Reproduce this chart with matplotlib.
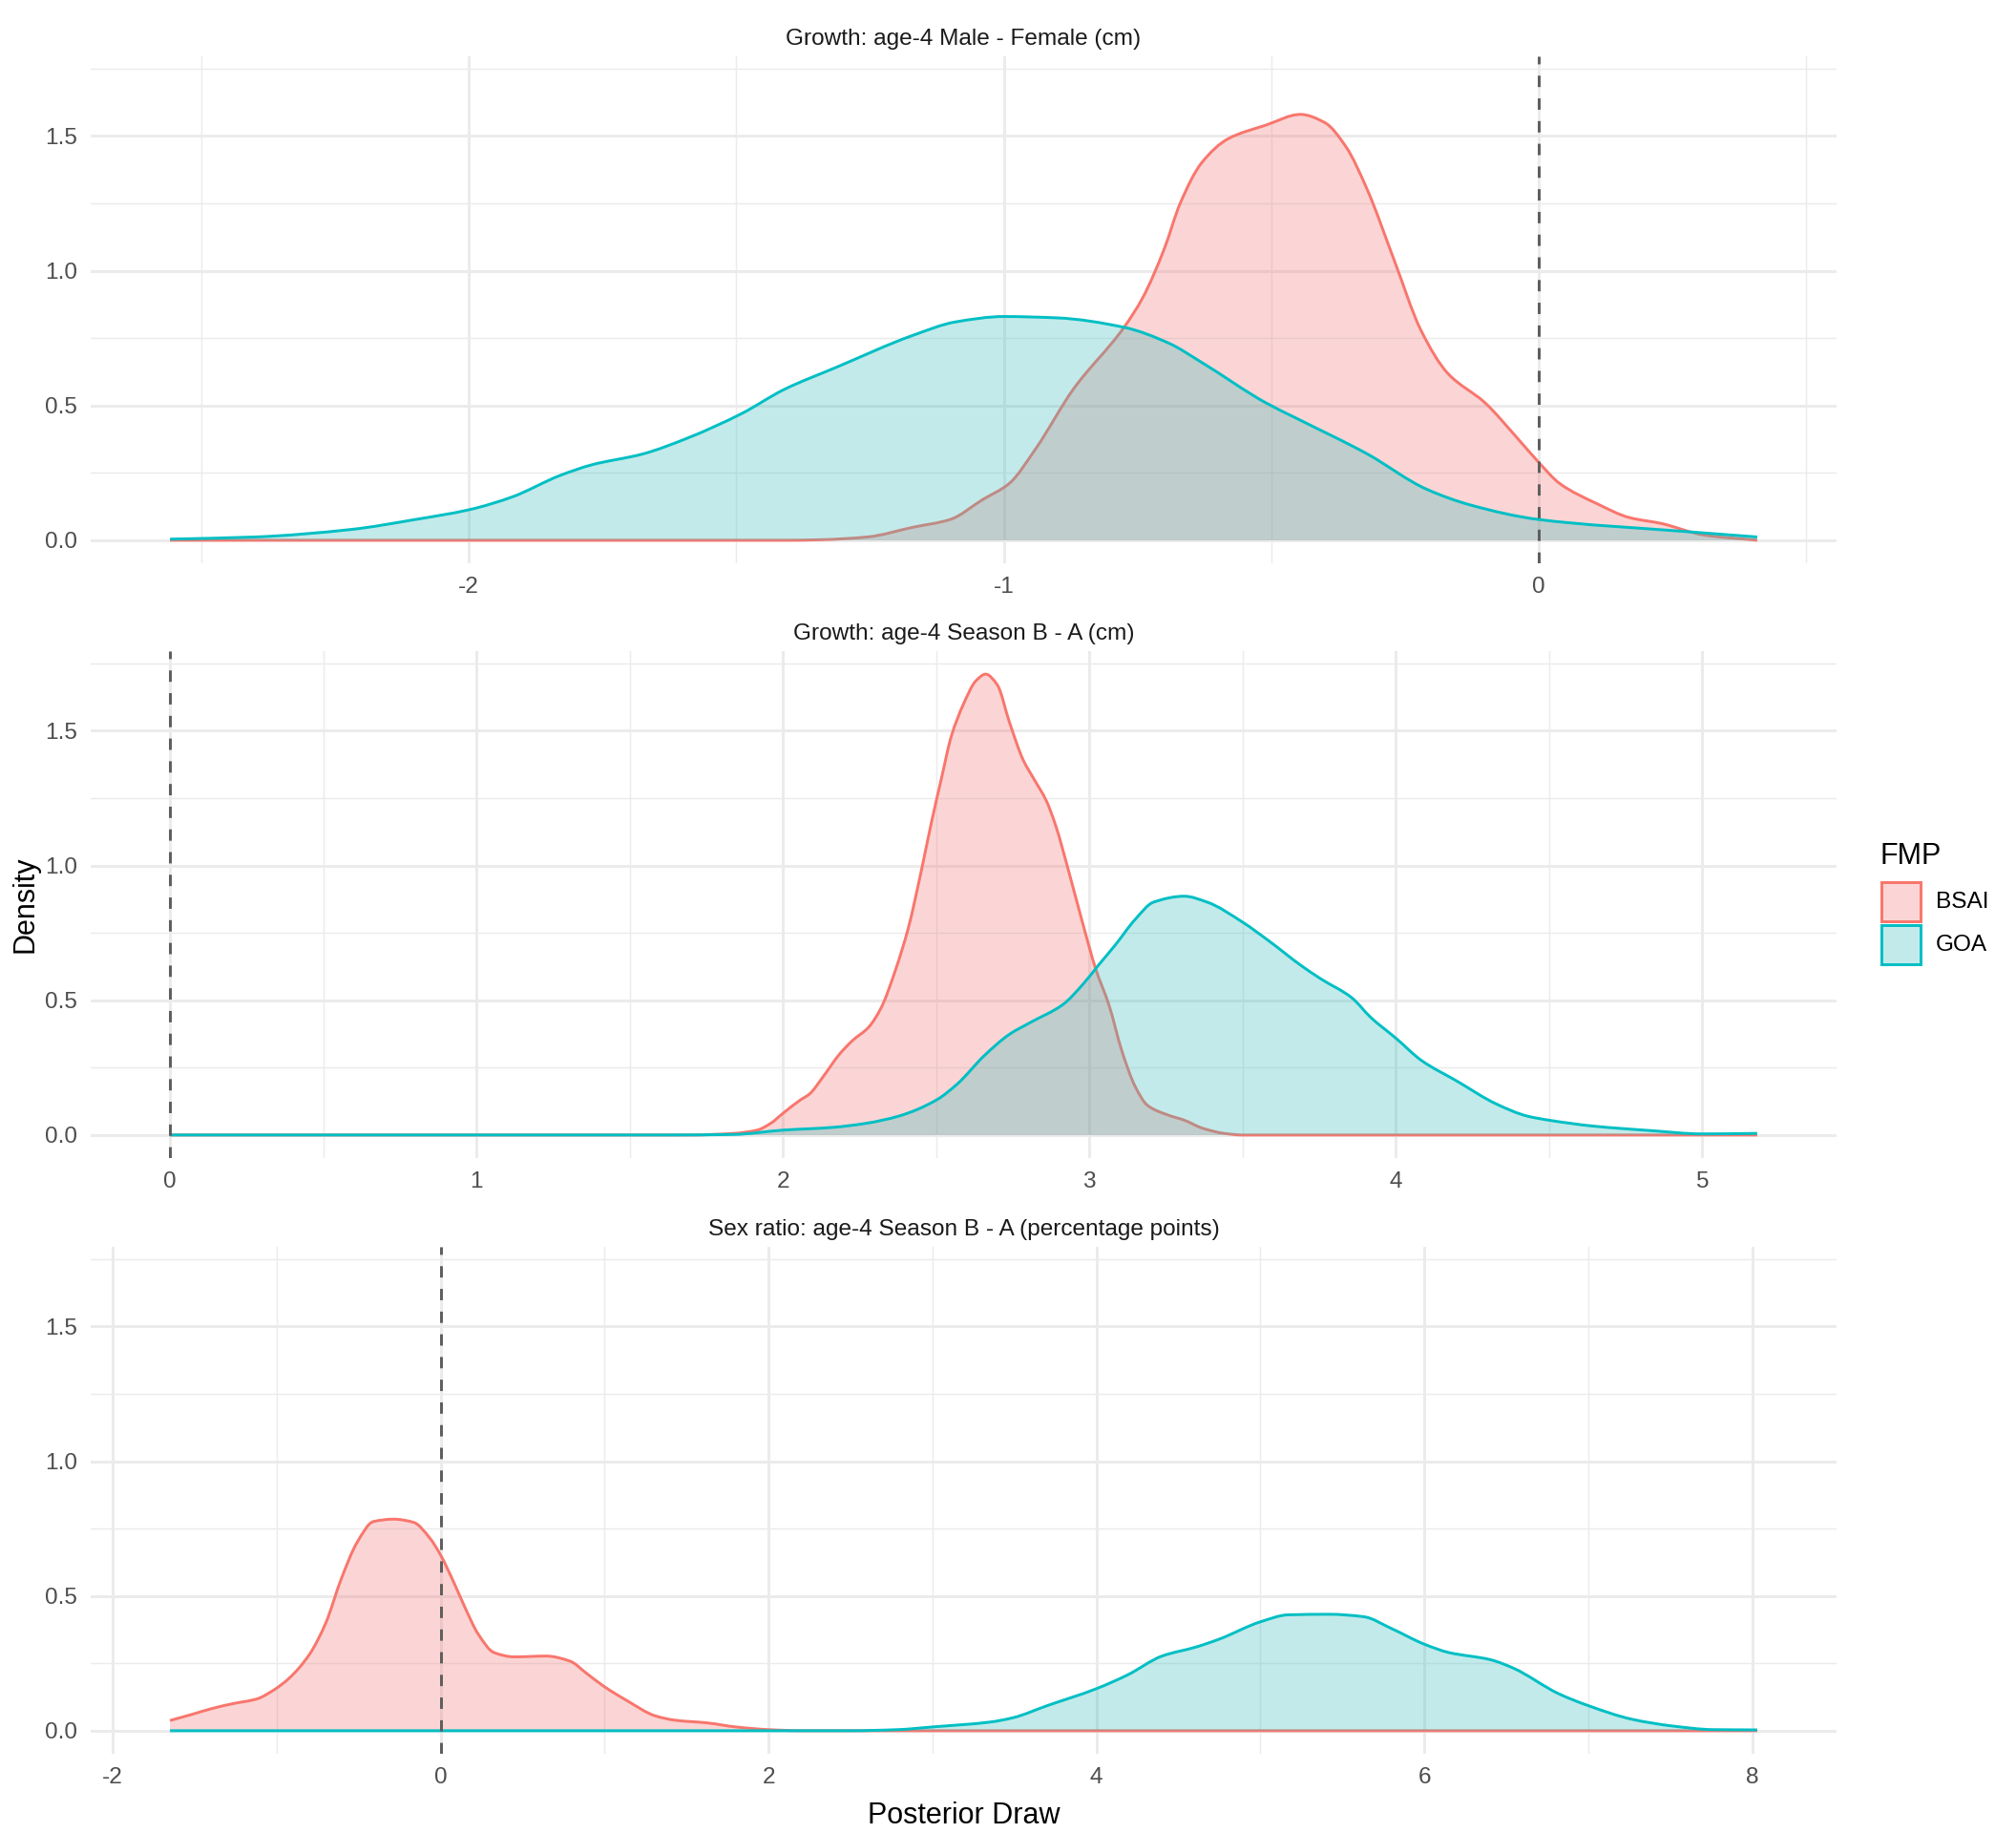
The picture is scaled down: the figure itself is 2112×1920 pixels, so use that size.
import matplotlib
matplotlib.use("Agg")
import matplotlib.pyplot as plt
from matplotlib.patches import Rectangle, PathPatch
from matplotlib.path import Path
from matplotlib.ticker import FixedLocator, FixedFormatter

plt.rcParams['font.family'] = ['Liberation Sans', 'DejaVu Sans']

# ---------------- data ----------------
fmp_levels = ["BSAI", "GOA"]
fmp_line_colors = ["#F8766D", "#00BFC4"]
fmp_fill_colors = ["#F27676", "#3ABCBC"]

panel_titles = [
    "Growth: age-4 Male - Female (cm)",
    "Growth: age-4 Season B - A (cm)",
    "Sex ratio: age-4 Season B - A (percentage points)",
]
panel_vlines = [0, 0, 0]
panel_xticks = [[-2, -1, 0], [0, 1, 2, 3, 4, 5], [-2, 0, 2, 4, 6, 8]]
panel_xticklabels = [["-2", "-1", "0"], ["0", "1", "2", "3", "4", "5"],
                     ["-2", "0", "2", "4", "6", "8"]]
y_ticks = [0.0, 0.5, 1.0, 1.5]
y_ticklabels = ["0.0", "0.5", "1.0", "1.5"]

# Panel 1: Growth age-4 Male - Female
p1_bsai_x = [-2.559, -1.40, -1.34, -1.255, -1.17, -1.10, -1.04, -0.99, -0.94, -0.87,
             -0.775, -0.74, -0.70, -0.67, -0.63, -0.58, -0.51, -0.445, -0.40, -0.36,
             -0.32, -0.27, -0.22, -0.17, -0.10, -0.04, 0.0, 0.04, 0.11, 0.17, 0.23,
             0.31, 0.409]
p1_bsai_y = [0.0, 0.0, 0.002, 0.012, 0.048, 0.077, 0.15, 0.21, 0.34, 0.56,
             0.79, 0.90, 1.08, 1.25, 1.40, 1.49, 1.54, 1.58, 1.55, 1.46,
             1.30, 1.04, 0.78, 0.62, 0.51, 0.38, 0.29, 0.21, 0.135, 0.084, 0.062,
             0.019, 0.0]
p1_goa_x = [-2.559, -2.40, -2.22, -2.10, -2.0, -1.92, -1.83, -1.77, -1.675, -1.59,
            -1.49, -1.41, -1.315, -1.17, -1.09, -1.0, -0.90, -0.775, -0.69, -0.63,
            -0.51, -0.45, -0.32, -0.21, -0.126, 0.0, 0.27, 0.409]
p1_goa_y = [0.004, 0.012, 0.04, 0.077, 0.113, 0.16, 0.24, 0.28, 0.32, 0.38,
            0.47, 0.56, 0.64, 0.76, 0.81, 0.83, 0.825, 0.79, 0.73, 0.66,
            0.51, 0.45, 0.32, 0.19, 0.13, 0.077, 0.033, 0.012]

# Panel 2: Growth age-4 Season B - A
p2_bsai_x = [0.0, 1.70, 1.84, 1.916, 1.96, 2.0, 2.056, 2.088, 2.13, 2.185, 2.227,
             2.28, 2.32, 2.367, 2.41, 2.45, 2.485, 2.517, 2.55, 2.59, 2.63, 2.662,
             2.70, 2.74, 2.785, 2.82, 2.86, 2.89, 2.935, 2.98, 3.02, 3.065, 3.107,
             3.15, 3.19, 3.257, 3.31, 3.37, 3.44, 3.50, 5.18]
p2_bsai_y = [0.0, 0.0, 0.006, 0.018, 0.043, 0.08, 0.129, 0.153, 0.214, 0.30, 0.35,
             0.40, 0.47, 0.61, 0.77, 0.97, 1.16, 1.32, 1.48, 1.60, 1.685, 1.71,
             1.67, 1.53, 1.39, 1.32, 1.24, 1.15, 0.97, 0.78, 0.62, 0.48, 0.31,
             0.18, 0.11, 0.074, 0.055, 0.025, 0.006, 0.0, 0.0]
p2_goa_x = [0.0, 1.627, 1.84, 2.0, 2.16, 2.27, 2.378, 2.5, 2.57, 2.657, 2.74, 2.807,
            2.914, 2.98, 3.03, 3.085, 3.15, 3.21, 3.31, 3.385, 3.5, 3.59, 3.69,
            3.755, 3.856, 3.92, 4.0, 4.085, 4.2, 4.327, 4.43, 4.5, 4.645, 4.836,
            5.0, 5.18]
p2_goa_y = [0.0, 0.0, 0.002, 0.018, 0.028, 0.043, 0.07, 0.129, 0.19, 0.294, 0.374,
            0.417, 0.484, 0.56, 0.63, 0.705, 0.80, 0.864, 0.886, 0.864, 0.79, 0.717,
            0.63, 0.58, 0.51, 0.435, 0.36, 0.276, 0.20, 0.116, 0.07, 0.055, 0.033,
            0.016, 0.004, 0.006]

# Panel 3: Sex ratio age-4 Season B - A
p3_bsai_x = [-1.65, -1.514, -1.39, -1.27, -1.12, -1.02, -0.925, -0.80, -0.70, -0.606,
             -0.508, -0.41, -0.287, -0.164, -0.066, 0.0, 0.081, 0.155, 0.228, 0.326,
             0.45, 0.645, 0.79, 0.89, 1.0, 1.136, 1.31, 1.43, 1.627, 1.80, 2.0, 2.2,
             8.03]
p3_bsai_y = [0.038, 0.061, 0.083, 0.10, 0.118, 0.15, 0.194, 0.283, 0.40, 0.563,
             0.70, 0.776, 0.785, 0.773, 0.715, 0.652, 0.55, 0.449, 0.36, 0.29,
             0.274, 0.277, 0.258, 0.213, 0.163, 0.112, 0.055, 0.039, 0.029, 0.014,
             0.004, 0.0, 0.0]
p3_goa_x = [-1.65, 2.5, 2.79, 3.0, 3.35, 3.49, 3.70, 4.0, 4.19, 4.40, 4.61, 4.75,
            5.0, 5.17, 5.42, 5.63, 5.80, 6.0, 6.15, 6.40, 6.54, 6.82, 7.0, 7.27,
            7.52, 7.76, 8.03]
p3_goa_y = [0.0, 0.0, 0.004, 0.014, 0.032, 0.048, 0.093, 0.156, 0.207, 0.277,
            0.311, 0.34, 0.404, 0.43, 0.432, 0.423, 0.379, 0.321, 0.29, 0.264,
            0.233, 0.137, 0.093, 0.042, 0.017, 0.004, 0.003]

panels = [
    [(p1_bsai_x, p1_bsai_y), (p1_goa_x, p1_goa_y)],
    [(p2_bsai_x, p2_bsai_y), (p2_goa_x, p2_goa_y)],
    [(p3_bsai_x, p3_bsai_y), (p3_goa_x, p3_goa_y)],
]


def smooth_path_codes(x, y):
    """Monotone (Fritsch-Butland) cubic Bezier path through the read points."""
    n = len(x)
    h = [x[k + 1] - x[k] for k in range(n - 1)]
    d = [(y[k + 1] - y[k]) / h[k] for k in range(n - 1)]
    m = [0.0] * n
    m[0], m[-1] = d[0], d[-1]
    for k in range(1, n - 1):
        if d[k - 1] * d[k] <= 0:
            m[k] = 0.0
        else:
            m[k] = 3 * (h[k - 1] + h[k]) / ((2 * h[k] + h[k - 1]) / d[k - 1]
                                            + (h[k] + 2 * h[k - 1]) / d[k])
    verts = [(x[0], y[0])]
    codes = [Path.MOVETO]
    for k in range(n - 1):
        verts += [(x[k] + h[k] / 3, y[k] + m[k] * h[k] / 3),
                  (x[k + 1] - h[k] / 3, y[k + 1] - m[k + 1] * h[k] / 3),
                  (x[k + 1], y[k + 1])]
        codes += [Path.CURVE4] * 3
    return verts, codes


# ---------------- figure ----------------
W, H, DPI = 2112, 1920, 200
fig = plt.figure(figsize=(W / DPI, H / DPI), dpi=DPI)
fig.patch.set_facecolor("white")

left_px, right_px = 95, 1924
panel_tops = [59, 682, 1306]
panel_h = 531

ymax = max(max(y) for p in panels for (_, y) in p)
ylim = (-0.05 * ymax, 1.05 * ymax)

GRID = "#EBEBEB"
LW = 1.07
ALPHA = 0.3

for i, series in enumerate(panels):
    top = panel_tops[i]
    ax = fig.add_axes([left_px / W, 1 - (top + panel_h) / H,
                       (right_px - left_px) / W, panel_h / H])
    allx = [v for (x, _) in series for v in x] + [panel_vlines[i]]
    lo, hi = min(allx), max(allx)
    r = hi - lo
    ax.set_xlim(lo - 0.05 * r, hi + 0.05 * r)
    ax.set_ylim(*ylim)

    majors = panel_xticks[i]
    step = majors[1] - majors[0]
    minors = [mm + step / 2 for mm in [majors[0] - step] + majors]
    xl = ax.get_xlim()
    minors = [mm for mm in minors if xl[0] <= mm <= xl[1]]
    ax.xaxis.set_major_locator(FixedLocator(majors))
    ax.xaxis.set_major_formatter(FixedFormatter(panel_xticklabels[i]))
    ax.xaxis.set_minor_locator(FixedLocator(minors))
    ax.yaxis.set_major_locator(FixedLocator(y_ticks))
    ax.yaxis.set_major_formatter(FixedFormatter(y_ticklabels))
    ax.yaxis.set_minor_locator(FixedLocator([0.25, 0.75, 1.25, 1.75]))

    ax.set_axisbelow(True)
    ax.grid(which="major", color=GRID, lw=LW)
    ax.grid(which="minor", color=GRID, lw=LW / 2)
    for s in ax.spines.values():
        s.set_visible(False)
    ax.tick_params(which="both", length=0, pad=4.95, labelsize=8.8,
                   labelcolor="#4D4D4D")
    ax.set_facecolor("white")

    for j, (x, y) in enumerate(series):
        verts, codes = smooth_path_codes(x, y)
        fverts = verts + [(x[-1], 0.0), (x[0], 0.0), (x[0], y[0])]
        fcodes = codes + [Path.LINETO, Path.LINETO, Path.CLOSEPOLY]
        ax.add_patch(PathPatch(Path(fverts, fcodes), facecolor=fmp_fill_colors[j],
                               alpha=ALPHA, lw=0, edgecolor="none", zorder=2 + j))
        ax.add_patch(PathPatch(Path(verts, codes), facecolor="none",
                               edgecolor=fmp_line_colors[j], lw=LW,
                               joinstyle="round", capstyle="butt", zorder=2 + j))

    ax.axvline(panel_vlines[i], color="#5E5E5E", lw=LW, ls=(0, (4, 4)), zorder=10)
    ax.set_title(panel_titles[i], fontsize=8.8, color="#1A1A1A", pad=4.2)

# axis titles
fig.text(1009.5 / W, 1 - 1902 / H, "Posterior Draw", ha="center", va="center",
         fontsize=11, color="black")
fig.text(27 / W, 1 - 947 / H, "Density", ha="center", va="center",
         rotation=90, fontsize=11, color="black")

# legend (manual, ggplot style)
key_l, key_w = 1969, 44
key_tops = [923, 968]
fig.text(key_l / W, 1 - 905 / H, "FMP", ha="left", va="baseline",
         fontsize=11, color="black")
for j, name in enumerate(fmp_levels):
    kt = key_tops[j]
    fig.add_artist(Rectangle(((key_l + 1.5) / W, 1 - (kt + key_w - 1.5) / H),
                             (key_w - 3) / W, (key_w - 3) / H,
                             transform=fig.transFigure, facecolor=fmp_fill_colors[j],
                             alpha=ALPHA, edgecolor="none"))
    fig.add_artist(Rectangle(((key_l + 1.5) / W, 1 - (kt + key_w - 1.5) / H),
                             (key_w - 3) / W, (key_w - 3) / H,
                             transform=fig.transFigure, facecolor="none",
                             edgecolor=fmp_line_colors[j], lw=LW))
    fig.text(2028 / W, 1 - (kt + key_w / 2) / H, name, ha="left", va="center",
             fontsize=8.8, color="black")

fig.savefig("out.png", dpi=DPI, facecolor="white")
